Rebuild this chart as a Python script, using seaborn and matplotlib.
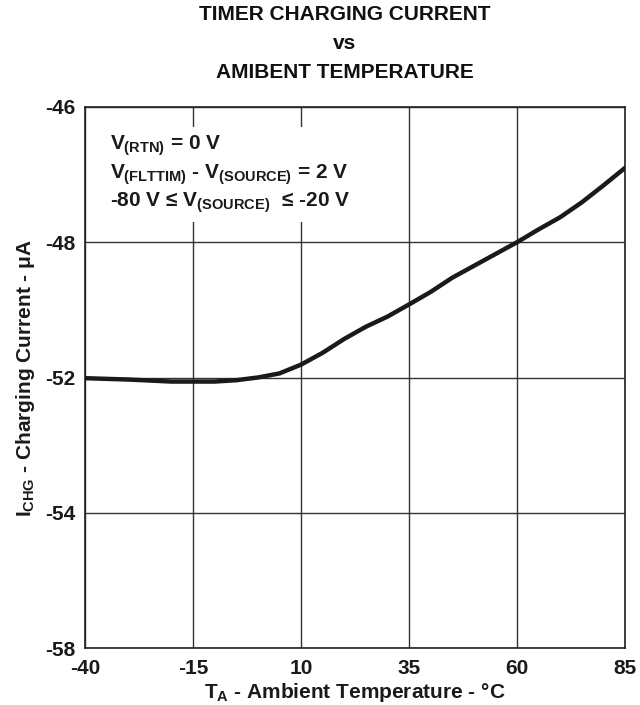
import numpy as np
import pandas as pd
import matplotlib
matplotlib.use("Agg")
import matplotlib.pyplot as plt
from matplotlib.patches import Rectangle
import seaborn as sns

# values
temp_c = [-40, -30, -20, -15, -10, -5, 0, 5, 10, 15, 20, 25, 30, 35, 40,
          45, 50, 55, 60, 65, 70, 75, 80, 85]
i_chg_ua = [-52.01, -52.03, -52.06, -52.06, -52.06, -52.04, -52.00, -51.88,
            -51.62, -51.27, -50.86, -50.50, -50.20, -49.84, -49.47, -49.05,
            -48.70, -48.35, -48.00, -47.81, -47.63, -47.41, -47.16, -46.90]

x_ticks = [-40, -15, 10, 35, 60, 85]
y_ticks = [-58, -54, -52, -48, -46]   # grid lines are evenly spaced on the sheet

df = pd.DataFrame({"T": temp_c, "I": i_chg_ua})

sns.set_style("white")
plt.rcParams["font.family"] = ["Liberation Sans", "DejaVu Sans"]
plt.rcParams["font.weight"] = "bold"
plt.rcParams["mathtext.fontset"] = "custom"
plt.rcParams["mathtext.rm"] = "Liberation Sans:bold"
plt.rcParams["mathtext.it"] = "Liberation Sans:bold"
plt.rcParams["mathtext.bf"] = "Liberation Sans:bold"

W, H = 640, 705
fig = plt.figure(figsize=(6.4, 7.05), dpi=100)
ax = fig.add_axes([85 / W, 1 - 648 / H, 540 / W, 541 / H])

# piecewise scale so the uneven labels sit on equally spaced grid lines
pos = np.arange(len(y_ticks), dtype=float)
def fwd(v):
    return np.interp(v, y_ticks, pos)
def inv(p):
    return np.interp(p, pos, y_ticks)
ax.set_yscale("function", functions=(fwd, inv))

sns.lineplot(data=df, x="T", y="I", ax=ax, color="#1a1a1a", linewidth=3.2,
             zorder=3)

ax.set_xlim(-40, 85)
ax.set_ylim(-58, -46)
ax.set_xticks(x_ticks)
ax.set_yticks(y_ticks)
ax.set_xticklabels([str(t) for t in x_ticks], fontsize=15, fontweight="bold")
ax.set_yticklabels([str(t) for t in y_ticks], fontsize=15, fontweight="bold")
ax.tick_params(axis="x", length=0, pad=8, colors="#1a1a1a")
ax.tick_params(axis="y", length=0, pad=7, colors="#1a1a1a")
ax.grid(True, color="#333333", linewidth=1.0)
for s in ax.spines.values():
    s.set_color("#222222")
    s.set_linewidth(1.2)

ax.set_xlabel(r"$T_A$ - Ambient Temperature - °C", fontsize=15,
              fontweight="bold", labelpad=2, color="#1a1a1a")
ax.set_ylabel(r"$I_{CHG}$ - Charging Current - μA", fontsize=15,
              fontweight="bold", labelpad=6, color="#1a1a1a")

# white box behind the conditions text hides the grid there
ax.add_patch(Rectangle(((100 - 85) / 540, (648 - 222) / 541),
                       (375 - 100) / 540, (222 - 127) / 541,
                       transform=ax.transAxes, facecolor="white",
                       edgecolor="none", zorder=1))

notes = [r"$V_{(RTN)}$ = 0 V",
         r"$V_{(FLTTIM)}$ - $V_{(SOURCE)}$ = 2 V",
         r"-80 V ≤ $V_{(SOURCE)}$  ≤ -20 V"]
baselines = [150, 179, 207]
for line, yb in zip(notes, baselines):
    fig.text(110 / W, 1 - yb / H, line, fontsize=15, fontweight="bold",
             color="#1a1a1a", ha="left", va="baseline")

title = ["TIMER CHARGING CURRENT", "vs", "AMIBENT TEMPERATURE"]
for k, line in enumerate(title):
    fig.text(345 / W, 1 - (14 + 29.5 * k) / H, line, fontsize=15,
             fontweight="bold", color="#111111", ha="center", va="center")

fig.savefig("out.png", dpi=100)
